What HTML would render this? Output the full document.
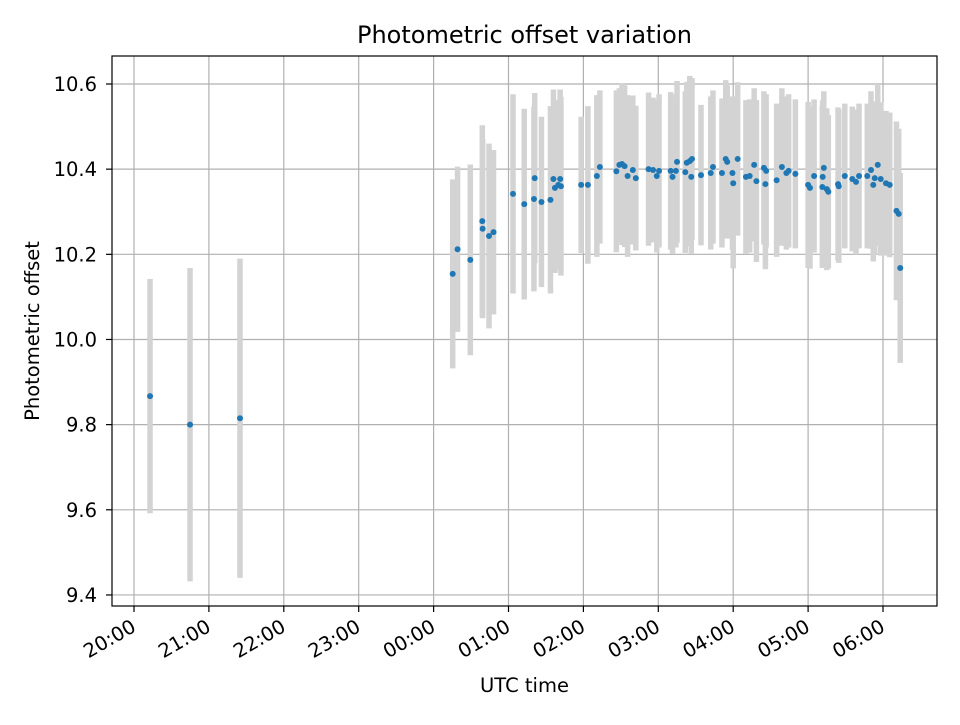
<!DOCTYPE html>
<html><head><meta charset="utf-8"><style>
body{margin:0;background:#fff}
svg{font-family:"DejaVu Sans","Liberation Sans",sans-serif}
</style></head><body>
<svg id="chart" width="960" height="720" viewBox="0 0 960 720" xmlns="http://www.w3.org/2000/svg">
<rect width="960" height="720" fill="#fff"/>
<g id="grid"></g>
<g id="errs"></g>
<g id="pts"></g>
<rect x="112" y="56" width="825" height="550" fill="none" stroke="#000" stroke-width="1.2"/>
<g id="ticks"></g>
<text x="524.5" y="43" font-size="24" text-anchor="middle">Photometric offset variation</text>
<text x="524.5" y="692" font-size="19.5" text-anchor="middle">UTC time</text>
<text transform="translate(39,331) rotate(-90)" font-size="19.5" text-anchor="middle">Photometric offset</text>
</svg>
<script>
// hours since 20:00
const hours=[0.214,0.748,1.415,4.255,4.32,4.49,4.65,4.655,4.74,4.80,5.06,5.21,5.34,5.35,5.44,5.56,5.60,5.62,5.665,5.69,5.70,5.97,6.06,6.18,6.22,6.44,6.48,6.515,6.55,6.59,6.66,6.70,6.87,6.93,6.98,7.01,7.165,7.19,7.235,7.25,7.36,7.38,7.42,7.45,7.44,7.57,7.70,7.73,7.85,7.90,7.92,7.99,8.00,8.06,8.17,8.22,8.28,8.31,8.41,8.44,8.43,8.58,8.65,8.71,8.74,8.83,9.00,9.025,9.08,9.19,9.195,9.21,9.25,9.27,9.40,9.41,9.49,9.59,9.64,9.68,9.79,9.84,9.87,9.89,9.93,9.97,10.04,10.09,10.18,10.21,10.23];
const offsets=[9.867,9.80,9.815,10.154,10.212,10.187,10.278,10.26,10.243,10.252,10.342,10.318,10.33,10.379,10.323,10.328,10.377,10.356,10.363,10.377,10.36,10.363,10.363,10.384,10.405,10.395,10.41,10.412,10.407,10.384,10.398,10.379,10.40,10.398,10.384,10.396,10.396,10.382,10.396,10.417,10.393,10.415,10.419,10.424,10.382,10.386,10.391,10.405,10.391,10.424,10.417,10.391,10.367,10.424,10.382,10.384,10.41,10.372,10.403,10.396,10.365,10.374,10.405,10.391,10.396,10.389,10.363,10.356,10.384,10.358,10.382,10.403,10.353,10.347,10.365,10.36,10.384,10.377,10.37,10.384,10.384,10.398,10.363,10.379,10.41,10.377,10.367,10.363,10.302,10.295,10.168];
const errors=[0.275,0.368,0.375,0.222,0.194,0.224,0.225,0.21,0.217,0.193,0.234,0.224,0.217,0.2,0.2,0.22,0.21,0.2,0.2,0.21,0.21,0.16,0.185,0.19,0.18,0.19,0.18,0.19,0.19,0.19,0.175,0.17,0.18,0.17,0.18,0.18,0.185,0.18,0.18,0.19,0.19,0.19,0.2,0.19,0.18,0.165,0.18,0.18,0.175,0.185,0.18,0.18,0.2,0.18,0.18,0.18,0.18,0.19,0.18,0.18,0.2,0.18,0.185,0.18,0.18,0.175,0.195,0.19,0.18,0.19,0.18,0.18,0.19,0.18,0.18,0.18,0.17,0.17,0.17,0.17,0.17,0.185,0.18,0.18,0.19,0.18,0.17,0.17,0.21,0.2,0.223];
const xTickLabels=["20:00","21:00","22:00","23:00","00:00","01:00","02:00","03:00","04:00","05:00","06:00"];
const yTicks=[9.4,9.6,9.8,10.0,10.2,10.4,10.6];
const NS="http://www.w3.org/2000/svg";
function X(h){return 134+h*74.9;}
function Y(v){return 84+(10.6-v)*425.8;}
function mk(p,t,a){const e=document.createElementNS(NS,t);for(const k in a)e.setAttribute(k,a[k]);document.getElementById(p).appendChild(e);return e;}
xTickLabels.forEach((l,i)=>{const x=X(i);
 const g=mk('grid','line',{x1:x,x2:x,y1:56,y2:606,stroke:'#b0b0b0','stroke-width':1.2});
 
 const t=mk('ticks','line',{x1:x,x2:x,y1:606,y2:612,stroke:'#000','stroke-width':1.2});
 
 const tx=mk('ticks','text',{transform:`translate(${x-4},${618}) rotate(-30)`,'text-anchor':'end','font-size':19.5,'dominant-baseline':'hanging'});
 tx.textContent=l;
 
});
yTicks.forEach(v=>{const y=Y(v);
 const g=mk('grid','line',{x1:112,x2:937,y1:y,y2:y,stroke:'#b0b0b0','stroke-width':1.2});
 
 const t=mk('ticks','line',{x1:106,x2:112,y1:y,y2:y,stroke:'#000','stroke-width':1.2});
 
 const tx=mk('ticks','text',{x:97,y:y+7,'text-anchor':'end','font-size':19.5});
 tx.textContent=v.toFixed(1);
 
});
hours.forEach((h,i)=>{const x=X(h);
 const e=mk('errs','line',{x1:x,x2:x,y1:Y(offsets[i]+errors[i]),y2:Y(offsets[i]-errors[i]),stroke:'#d3d3d3','stroke-width':5.5});
 
});
hours.forEach((h,i)=>{
 const c=mk('pts','circle',{cx:X(h),cy:Y(offsets[i]),r:3,fill:'#1f77b4'});
 
});
</script>
</body></html>
